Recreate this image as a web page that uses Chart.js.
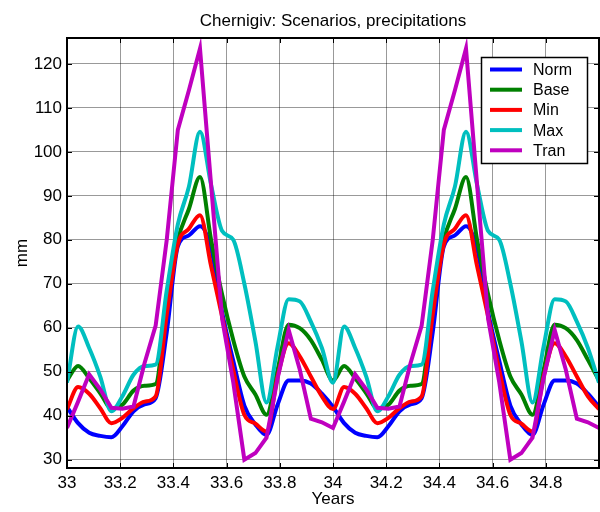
<!DOCTYPE html>
<html>
<head>
<meta charset="utf-8">
<script src="https://cdn.jsdelivr.net/npm/chart.js@4.4.1/dist/chart.umd.min.js"></script>
<style>
    html, body { margin: 0; padding: 0; background: #fff; }
    #wrap { width: 600px; height: 512px; }
</style>
</head>
<body>
<div id="wrap"><canvas id="chart" width="600" height="512"></canvas></div>
<script>
// Data, half-month steps over two years
const years = [
    33, 33.0417, 33.0833, 33.125, 33.1667, 33.2083, 33.25, 33.2917, 33.3333, 33.375, 33.4167, 33.4583,
    33.5, 33.5417, 33.5833, 33.625, 33.6667, 33.7083, 33.75, 33.7917, 33.8333, 33.875, 33.9167, 33.9583,
    34, 34.0417, 34.0833, 34.125, 34.1667, 34.2083, 34.25, 34.2917, 34.3333, 34.375, 34.4167, 34.4583,
    34.5, 34.5417, 34.5833, 34.625, 34.6667, 34.7083, 34.75, 34.7917, 34.8333, 34.875, 34.9167, 34.9583,
    35
];

const normVals = [
    42, 38.3, 36.1, 35.4, 35.1, 37.6, 41, 42.6, 44, 59, 78.5, 81,
    83.1, 78, 63.5, 52.5, 42.3, 38, 35.6, 42.5, 48, 48, 47.3, 45,
    42, 38.3, 36.1, 35.4, 35.1, 37.6, 41, 42.6, 44, 59, 78.5, 81,
    83.1, 78, 63.5, 52.5, 42.3, 38, 35.6, 42.5, 48, 48, 47.3, 45,
    42
];
const baseVals = [
    48, 51.3, 48.5, 45.1, 41.7, 42.5, 45.7, 46.8, 47.2, 66, 80, 87,
    94.3, 80, 67.5, 57.2, 48.9, 44.8, 40.2, 50.4, 60.7, 59.9, 57.2, 52.7,
    48, 51.3, 48.5, 45.1, 41.7, 42.5, 45.7, 46.8, 47.2, 66, 80, 87,
    94.3, 80, 67.5, 57.2, 48.9, 44.8, 40.2, 50.4, 60.7, 59.9, 57.2, 52.7,
    48
];
const minVals = [
    41.5, 46.5, 45, 41.7, 38.3, 39.5, 41.7, 43.2, 44.4, 63, 79, 82.5,
    85.6, 74, 62.5, 50.4, 40.2, 38.2, 36.4, 48.9, 56.5, 53.5, 48.9, 44.4,
    41.5, 46.5, 45, 41.7, 38.3, 39.5, 41.7, 43.2, 44.4, 63, 79, 82.5,
    85.6, 74, 62.5, 50.4, 40.2, 38.2, 36.4, 48.9, 56.5, 53.5, 48.9, 44.4,
    41.5
];
const maxVals = [
    47.5, 60.3, 55.4, 48.9, 41, 44.4, 49.3, 51.3, 51.6, 68.5, 83.5, 92.1,
    104.6, 92.5, 82, 80, 70, 56.9, 43, 55.7, 66.5, 66, 61.4, 55.4,
    47.5, 60.3, 55.4, 48.9, 41, 44.4, 49.3, 51.3, 51.6, 68.5, 83.5, 92.1,
    104.6, 92.5, 82, 80, 70, 56.9, 43, 55.7, 66.5, 66, 61.4, 55.4,
    47.5
];
const tranVals = [
    37.2, 43.2, 49.4, 46, 41.8, 41.6, 42.1, 52, 60.5, 80, 105, 114,
    123.5, 92.5, 62, 47.6, 30, 31.5, 35, 48.5, 59.5, 50.5, 39.3, 38.5,
    37.2, 43.2, 49.4, 46, 41.8, 41.6, 42.1, 52, 60.5, 80, 105, 114,
    123.5, 92.5, 62, 47.6, 30, 31.5, 35, 48.5, 59.5, 50.5, 39.3, 38.5,
    37.2
];

const seriesNames = ['Norm', 'Base', 'Min', 'Max', 'Tran'];
const seriesColors = ['#0000ff', '#008000', '#ff0000', '#00bfbf', '#bf00bf'];
const xTicks = [33, 33.2, 33.4, 33.6, 33.8, 34, 34.2, 34.4, 34.6, 34.8];
const yTicks = [30, 40, 50, 60, 70, 80, 90, 100, 110, 120];

const FONT = 'Liberation Sans, Arial, Helvetica, sans-serif';

function toPoints(vals) {
    return years.map((x, i) => ({ x: x, y: vals[i] }));
}

const allVals = [normVals, baseVals, minVals, maxVals, tranVals];
const datasets = allVals.map((vals, i) => ({
    label: seriesNames[i],
    data: toPoints(vals),
    borderColor: seriesColors[i],
    backgroundColor: seriesColors[i],
    borderWidth: 4,
    pointRadius: 0,
    fill: false,
    order: 5 - i, // Tran on top, Norm at the bottom
    cubicInterpolationMode: i === 4 ? 'default' : 'monotone',
    tension: 0
}));

// frame, inward ticks, title and legend, MATLAB style
const matlabBits = {
    id: 'matlabBits',
    afterDraw(chart) {
        const ctx = chart.ctx;
        const a = chart.chartArea;
        const xs = chart.scales.x, ys = chart.scales.y;
        ctx.save();

        // inward tick marks
        ctx.strokeStyle = '#000';
        ctx.lineWidth = 1;
        ctx.beginPath();
        xTicks.forEach(v => {
            const px = Math.round(xs.getPixelForValue(v)) + 0.5;
            ctx.moveTo(px, a.bottom); ctx.lineTo(px, a.bottom - 5);
            ctx.moveTo(px, a.top); ctx.lineTo(px, a.top + 5);
        });
        yTicks.forEach(v => {
            const py = Math.round(ys.getPixelForValue(v)) + 0.5;
            ctx.moveTo(a.left, py); ctx.lineTo(a.left + 5, py);
            ctx.moveTo(a.right, py); ctx.lineTo(a.right - 5, py);
        });
        ctx.stroke();

        // box
        ctx.lineWidth = 2;
        ctx.strokeRect(a.left, a.top, a.right - a.left, a.bottom - a.top);

        // title
        ctx.fillStyle = '#000';
        ctx.font = '17px ' + FONT;
        ctx.textAlign = 'center';
        ctx.textBaseline = 'middle';
        ctx.fillText('Chernigiv: Scenarios, precipitations', (a.left + a.right) / 2, 21);

        // legend
        const lx = 481, ly = 57, lw = 106, lh = 106;
        ctx.fillStyle = '#fff';
        ctx.fillRect(lx, ly, lw, lh);
        ctx.lineWidth = 1.5;
        ctx.strokeStyle = '#000';
        ctx.strokeRect(lx + 0.5, ly + 0.5, lw, lh);
        ctx.font = '16px ' + FONT;
        ctx.textAlign = 'left';
        seriesNames.forEach((name, i) => {
            const ry = 69.5 + i * 20.2;
            ctx.strokeStyle = seriesColors[i];
            ctx.lineWidth = 4;
            ctx.beginPath();
            ctx.moveTo(490, ry);
            ctx.lineTo(522, ry);
            ctx.stroke();
            ctx.fillStyle = '#000';
            ctx.fillText(name, 533, ry + 1);
        });
        ctx.restore();
    }
};

new Chart(document.getElementById('chart'), {
    type: 'line',
    data: { datasets: datasets },
    options: {
        responsive: false,
        animation: false,
        devicePixelRatio: 1,
        layout: { padding: { top: 38, right: 1, left: 0, bottom: 0 } },
        plugins: {
            legend: { display: false },
            title: { display: false },
            tooltip: { enabled: false }
        },
        scales: {
            x: {
                type: 'linear',
                min: 33,
                max: 35,
                afterBuildTicks: scale => { scale.ticks = xTicks.map(v => ({ value: v })); },
                afterFit: scale => { scale.height = 44; },
                border: { display: false },
                grid: { color: 'rgba(0,0,0,0.4)', lineWidth: 1, drawTicks: false },
                ticks: {
                    color: '#000',
                    font: { family: FONT, size: 17 },
                    padding: 5,
                    maxRotation: 0,
                    autoSkip: false,
                    callback: v => String(Math.round(v * 10) / 10)
                },
                title: {
                    display: true,
                    text: 'Years',
                    color: '#000',
                    font: { family: FONT, size: 17 },
                    padding: { top: 0, bottom: 2 }
                }
            },
            y: {
                min: 28.1,
                max: 125.9,
                afterBuildTicks: scale => { scale.ticks = yTicks.map(v => ({ value: v })); },
                afterFit: scale => { scale.width = 67; },
                border: { display: false },
                grid: { color: 'rgba(0,0,0,0.4)', lineWidth: 1, drawTicks: false },
                ticks: {
                    color: '#000',
                    font: { family: FONT, size: 17 },
                    padding: 5,
                    autoSkip: false
                },
                title: {
                    display: true,
                    text: 'mm',
                    color: '#000',
                    font: { family: FONT, size: 17 },
                    padding: { top: 12, bottom: 0 }
                }
            }
        }
    },
    plugins: [matlabBits]
});
</script>
</body>
</html>
